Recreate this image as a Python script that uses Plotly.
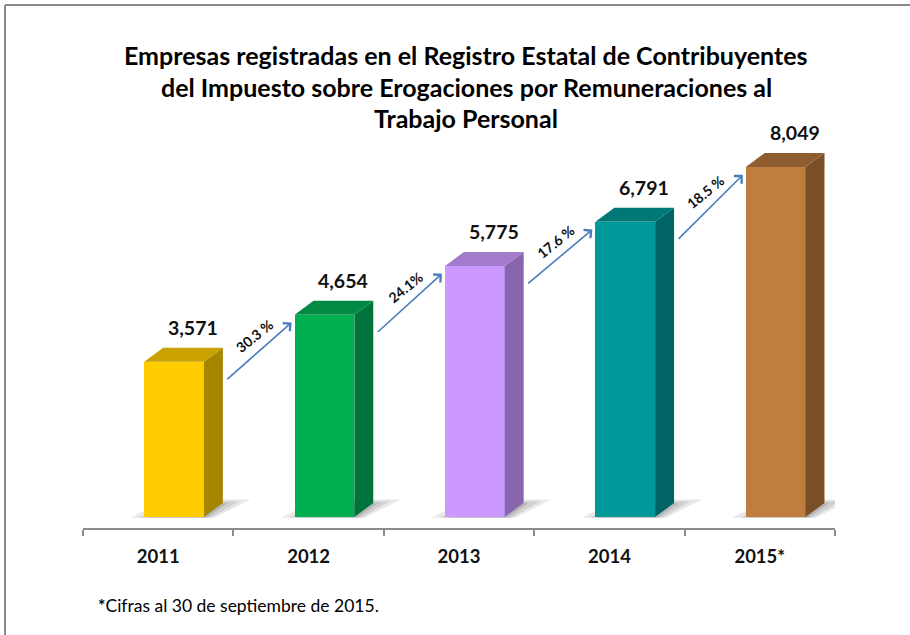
import plotly.graph_objects as go

# ---------------- data ----------------
years = ["2011", "2012", "2013", "2014", "2015*"]
values = [3571, 4654, 5775, 6791, 8049]
growth_labels = ["30.3 %", "24.1%", "17.6 %", "18.5 %"]
title_lines = [
    "Empresas registradas en el Registro Estatal de Contribuyentes",
    "del Impuesto sobre Erogaciones por Remuneraciones al",
    "Trabajo Personal",
]
footnote = "<b>*</b>Cifras al 30 de septiembre de 2015."

front_colors = ["#FFCC00", "#00B050", "#CC99FF", "#009999", "#BF7E3F"]
side_colors = ["#A68500", "#00743A", "#8766AE", "#006464", "#7A4F28"]
top_colors = ["#C9A100", "#008A42", "#A27CCB", "#007878", "#8E5D30"]

# ---------------- geometry (style) ----------------
BAR_OFF = -0.093   # left edge of front face relative to category centre
BAR_W = 0.397      # width of front face
DX = 0.126         # depth offset in x (category units)
DY = 322           # depth offset in y (value units)
FONT = "Lato"

xs = list(range(len(years)))
fig = go.Figure()

# shadows (shapes below traces)
shapes = []
for i, v in zip(xs, values):
    for k, (a, op) in enumerate([(0.0, 0.09), (0.05, 0.10), (0.10, 0.12)]):
        x0 = i + BAR_OFF - 0.09 + a
        x1 = i + BAR_OFF + BAR_W + 0.07 - a * 0.5
        path = (f"M {x0},{-15} L {x1},{-15} L {x1 + DX * 1.9 - a},{DY * 1.25 - a * 800} "
                f"L {x0 + DX * 1.9 + a},{DY * 1.25 - a * 800} Z")
        shapes.append(dict(type="path", path=path, xref="x", yref="y",
                           fillcolor=f"rgba(0,0,0,{op})", line=dict(width=0),
                           layer="below"))

# front faces
fig.add_trace(go.Bar(
    x=xs, y=values, width=BAR_W, offset=BAR_OFF,
    marker=dict(color=front_colors, line=dict(width=0)),
    hoverinfo="skip", showlegend=False,
))

# side and top faces
for i, v in enumerate(values):
    x0 = i + BAR_OFF
    x1 = x0 + BAR_W
    fig.add_trace(go.Scatter(
        x=[x1, x1 + DX, x1 + DX, x1, x1], y=[0, DY, v + DY, v, 0],
        fill="toself", fillcolor=side_colors[i], mode="lines",
        line=dict(width=0, color=side_colors[i]), hoverinfo="skip", showlegend=False,
    ))
    fig.add_trace(go.Scatter(
        x=[x0, x1, x1 + DX, x0 + DX, x0], y=[v, v, v + DY, v + DY, v],
        fill="toself", fillcolor=top_colors[i], mode="lines",
        line=dict(width=0, color=top_colors[i]), hoverinfo="skip", showlegend=False,
    ))

annotations = []
# value labels
for i, v in enumerate(values):
    annotations.append(dict(
        x=i + BAR_OFF + DX + BAR_W / 2, y=v + DY, xref="x", yref="y",
        text=f"<b>{v:,}</b>", showarrow=False, yanchor="bottom", yshift=7,
        font=dict(family=FONT, size=19.5, color="#111111"),
    ))

# growth arrows and labels
for i, lab in enumerate(growth_labels):
    xs0 = i + BAR_OFF + BAR_W + DX + 0.02
    ys0 = values[i] - 430
    xe = i + 1 + BAR_OFF - 0.02
    ye = values[i + 1] - 180
    annotations.append(dict(
        x=xe, y=ye, ax=xs0, ay=ys0, xref="x", yref="y", axref="x", ayref="y",
        text="", showarrow=True, arrowhead=4, arrowsize=1.3, arrowwidth=1.6,
        arrowcolor="#4A7EBB", standoff=0, startstandoff=0,
    ))
    annotations.append(dict(
        x=(xs0 + xe) / 2, y=(ys0 + ye) / 2, xref="x", yref="y",
        text=f"<b>{lab}</b>", showarrow=False, textangle=-39,
        xshift=-4, yshift=16,
        font=dict(family=FONT, size=14, color="#111111"),
    ))

# title lines
for k, line in enumerate(title_lines):
    annotations.append(dict(
        x=466, y=38 + k * 31.5, xref="paper", yref="paper", text=f"<b>{line}</b>",
        showarrow=False, font=dict(family=FONT, size=25, color="#000000"),
    ))
# footnote
annotations.append(dict(
    x=0.017, y=-0.115, xref="paper", yref="paper", xanchor="left", yanchor="middle",
    text=footnote, showarrow=False, font=dict(family=FONT, size=17.5, color="#000000"),
))

# convert title pixel positions to paper coords
W, H = 910, 635
ML, MR, MT, MB = 83, 75, 130, 107
pw, ph = W - ML - MR, H - MT - MB
for a in annotations[-4:-1]:
    a["x"] = (a["x"] - ML) / pw
    a["y"] = 1 + (MT - a["y"]) / ph
annotations[-1]["x"] = (96 - ML) / pw
annotations[-1]["y"] = -(605 - (H - MB)) / ph

# frame lines
shapes.append(dict(type="line", xref="paper", yref="paper",
                   x0=(5 - ML) / pw, x1=(W - ML) / pw,
                   y0=1 + (MT - 5) / ph, y1=1 + (MT - 5) / ph,
                   line=dict(color="#8A8A8A", width=2)))
shapes.append(dict(type="line", xref="paper", yref="paper",
                   x0=(5 - ML) / pw, x1=(5 - ML) / pw,
                   y0=1 + (MT - 5) / ph, y1=-(H - (H - MB)) / ph,
                   line=dict(color="#8A8A8A", width=2)))

ymin = -253
ymax = ymin + (517 - 130 + 11) / 0.04348

fig.update_layout(
    width=W, height=H,
    margin=dict(l=ML, r=MR, t=MT, b=MB),
    paper_bgcolor="white", plot_bgcolor="white",
    showlegend=False,
    bargap=0,
    xaxis=dict(
        range=[-0.5, len(years) - 0.5], tickmode="array", tickvals=xs, ticktext=[f"<b>{y}</b>" for y in years],
        ticks="", showline=True, linecolor="#8C8C8C", linewidth=2,
        showgrid=False, zeroline=False, fixedrange=True,
        tickfont=dict(family=FONT, size=18.5, color="#111111"),
        minor=dict(tickmode="array", tickvals=[x - 0.5 for x in xs] + [len(xs) - 0.5],
                   ticks="outside", ticklen=6, tickwidth=2, tickcolor="#8C8C8C", showgrid=False),
        ticklabelstandoff=11,
    ),
    yaxis=dict(range=[ymin, ymax], visible=False, showgrid=False, zeroline=False, fixedrange=True),
    annotations=annotations,
    shapes=shapes,
)

fig.write_html("out.html", config={"displayModeBar": False},
               post_script="document.body.style.margin='0';")
